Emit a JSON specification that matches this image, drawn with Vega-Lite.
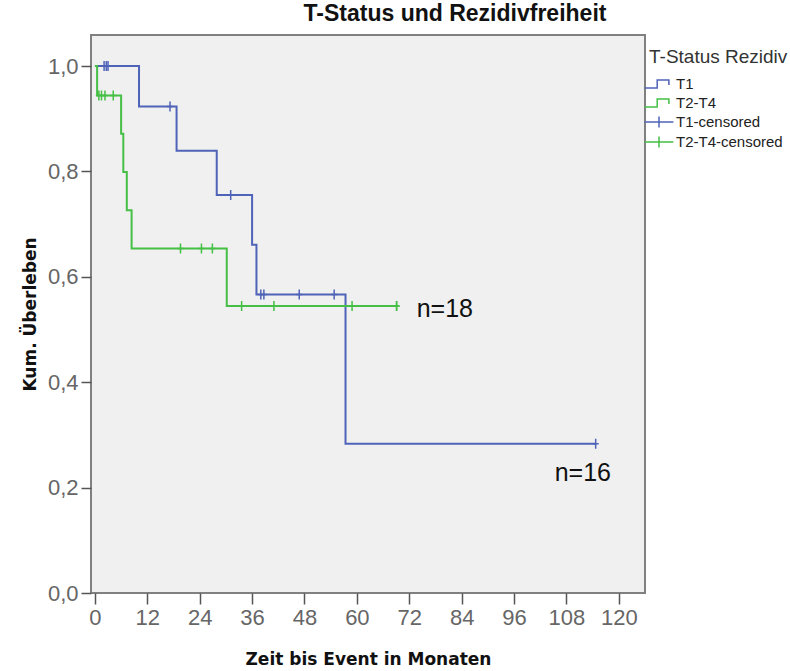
{
  "$schema": "https://vega.github.io/schema/vega-lite/v6.json",
  "width": 554,
  "height": 558,
  "autosize": {"type": "none"},
  "padding": {"left": 91, "top": 35, "right": 145, "bottom": 78},
  "background": "white",
  "title": {"text": "T-Status und Rezidivfreiheit", "fontSize": 23, "font": "Liberation Sans", "fontWeight": "bold", "color": "#111111", "anchor": "middle", "dx": 87, "offset": 9},
  "config": {
    "view": {"fill": "#f0f0f0", "stroke": "#808080", "strokeWidth": 2},
    "font": "Liberation Sans"
  },
  "datasets": {
    "curves": [
      {"group": "T1", "t": 0, "s": 1},
      {"group": "T1", "t": 10.1, "s": 0.9231},
      {"group": "T1", "t": 18.7, "s": 0.8392},
      {"group": "T1", "t": 27.9, "s": 0.7552},
      {"group": "T1", "t": 36.0, "s": 0.6608},
      {"group": "T1", "t": 37.0, "s": 0.5664},
      {"group": "T1", "t": 57.4, "s": 0.2832},
      {"group": "T1", "t": 114.7, "s": 0.2832},
      {"group": "T2-T4", "t": 0, "s": 1},
      {"group": "T2-T4", "t": 0.5, "s": 0.9444},
      {"group": "T2-T4", "t": 6.0, "s": 0.8718},
      {"group": "T2-T4", "t": 6.5, "s": 0.7991},
      {"group": "T2-T4", "t": 7.3, "s": 0.7265},
      {"group": "T2-T4", "t": 8.4, "s": 0.6538},
      {"group": "T2-T4", "t": 30.2, "s": 0.5449},
      {"group": "T2-T4", "t": 69.1, "s": 0.5449}
    ],
    "censored": [
      {"group": "T1-censored", "t": 2.1, "s": 1},
      {"group": "T1-censored", "t": 2.6, "s": 1},
      {"group": "T1-censored", "t": 3.0, "s": 1},
      {"group": "T1-censored", "t": 17.2, "s": 0.9231},
      {"group": "T1-censored", "t": 31.1, "s": 0.7552},
      {"group": "T1-censored", "t": 38.0, "s": 0.5664},
      {"group": "T1-censored", "t": 38.7, "s": 0.5664},
      {"group": "T1-censored", "t": 46.8, "s": 0.5664},
      {"group": "T1-censored", "t": 54.8, "s": 0.5664},
      {"group": "T1-censored", "t": 114.7, "s": 0.2832},
      {"group": "T2-T4-censored", "t": 0.9, "s": 0.9444},
      {"group": "T2-T4-censored", "t": 1.5, "s": 0.9444},
      {"group": "T2-T4-censored", "t": 2.3, "s": 0.9444},
      {"group": "T2-T4-censored", "t": 4.2, "s": 0.9444},
      {"group": "T2-T4-censored", "t": 19.6, "s": 0.6538},
      {"group": "T2-T4-censored", "t": 24.4, "s": 0.6538},
      {"group": "T2-T4-censored", "t": 26.9, "s": 0.6538},
      {"group": "T2-T4-censored", "t": 33.6, "s": 0.5449},
      {"group": "T2-T4-censored", "t": 41.0, "s": 0.5449},
      {"group": "T2-T4-censored", "t": 58.9, "s": 0.5449},
      {"group": "T2-T4-censored", "t": 69.1, "s": 0.5449},
      {"group": "T2-T4-censored", "t": 69.1, "s": 0.5449}
    ],
    "labels": [
      {"label": "n=18", "t": 73.7, "s": 0.539},
      {"label": "n=16", "t": 105.3, "s": 0.228}
    ]
  },
  "layer": [
    {
      "data": {"name": "curves"},
      "mark": {"type": "line", "interpolate": "step-after", "strokeWidth": 2},
      "encoding": {
        "x": {
          "field": "t", "type": "quantitative",
          "scale": {"domain": [-0.9, 126], "nice": false, "zero": false},
          "axis": {
            "values": [0, 12, 24, 36, 48, 60, 72, 84, 96, 108, 120],
            "title": "Zeit bis Event in Monaten",
            "grid": false, "domain": false,
            "tickColor": "#555555", "tickSize": 11, "tickWidth": 1.5,
            "labelFontSize": 22, "labelColor": "#666666", "labelPadding": 3, "labelFont": "Liberation Sans",
            "titleFont": "DejaVu Sans", "titleFontSize": 17, "titleFontWeight": "bold", "titleColor": "#111111", "titlePadding": 23
          }
        },
        "y": {
          "field": "s", "type": "quantitative",
          "scale": {"domain": [0, 1.059], "nice": false},
          "axis": {
            "values": [0, 0.2, 0.4, 0.6, 0.8, 1],
            "labelExpr": "replace(format(datum.value, '.1f'), '.', ',')",
            "title": "Kum. Überleben",
            "grid": false, "domain": false,
            "tickColor": "#555555", "tickSize": 10, "tickWidth": 1.5,
            "labelFontSize": 22, "labelColor": "#666666", "labelPadding": 3, "labelFont": "Liberation Sans",
            "titleFont": "DejaVu Sans", "titleFontSize": 17, "titleFontWeight": "bold", "titleColor": "#111111", "titlePadding": 8
          }
        },
        "color": {
          "field": "group", "type": "nominal",
          "scale": {"domain": ["T1", "T2-T4"], "range": ["#4f63b8", "#45bf45"]},
          "legend": {
            "orient": "none", "legendX": 558, "legendY": 13,
            "title": "T-Status Rezidiv", "titleFontSize": 19, "titleFontWeight": "normal", "titleColor": "#333333", "titleFont": "Liberation Sans", "titlePadding": 7,
            "labelFontSize": 15, "labelColor": "#222222", "labelFont": "Liberation Sans", "labelOffset": 7,
            "symbolType": "M-1.6,0.45L-0.2,0.45L-0.2,-0.45L1.1,-0.45L1.1,0.1",
            "symbolSize": 324, "symbolStrokeWidth": 1.5, "rowPadding": 1
          }
        }
      }
    },
    {
      "data": {"name": "censored"},
      "mark": {"type": "point", "shape": "M-0.6,0L0.6,0M0,-1L0,1", "size": 100, "filled": false, "strokeWidth": 1.5, "opacity": 1},
      "encoding": {
        "x": {"field": "t", "type": "quantitative"},
        "y": {"field": "s", "type": "quantitative"},
        "stroke": {
          "field": "group", "type": "nominal",
          "scale": {"domain": ["T1-censored", "T2-T4-censored"], "range": ["#4f63b8", "#45bf45"]},
          "legend": {
            "orient": "none", "legendX": 558, "legendY": 77,
            "title": null,
            "labelFontSize": 15, "labelColor": "#222222", "labelFont": "Liberation Sans", "labelOffset": 7,
            "symbolType": "M-1.6,0L1.6,0M0,-0.6L0,0.6",
            "symbolSize": 324, "symbolStrokeWidth": 1.5, "rowPadding": 1
          }
        }
      }
    },
    {
      "data": {"name": "labels"},
      "mark": {"type": "text", "align": "left", "baseline": "middle", "fontSize": 25, "font": "Liberation Sans", "color": "#111111"},
      "encoding": {
        "x": {"field": "t", "type": "quantitative"},
        "y": {"field": "s", "type": "quantitative"},
        "text": {"field": "label", "type": "nominal"}
      }
    }
  ]
}
